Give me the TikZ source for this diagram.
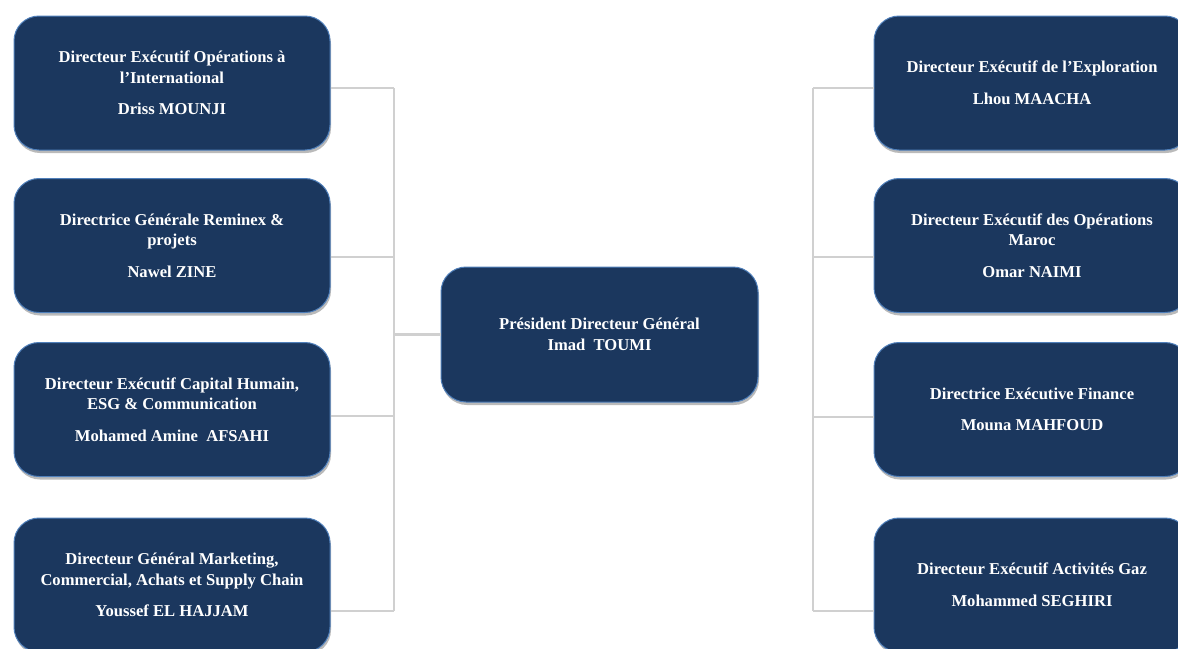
\documentclass[tikz,border=0pt]{standalone}
\usepackage{fontspec}
\setmainfont{Liberation Serif}
\usetikzlibrary{shadows}
\definecolor{boxfill}{HTML}{1B375E}
\definecolor{boxline}{HTML}{4F7FBA}
\definecolor{conn}{HTML}{D0D0D0}
\tikzset{
  orgbox/.style={rectangle, rounded corners=25pt, minimum width=316pt, minimum height=134pt,
    fill=boxfill, draw=boxline, line width=1pt, text=white, align=center, inner sep=0pt,
    font=\fontsize{16.6}{20.6}\selectfont\bfseries,
    drop shadow={shadow xshift=1pt, shadow yshift=-3pt, opacity=0.45, fill=black!60}},
  connector/.style={draw=conn, line width=2.5pt}
}
\begin{document}
\begin{tikzpicture}[x=1pt,y=-1pt]
\useasboundingbox (0,0) rectangle (1178,648);
\fill[white] (0,0) rectangle (1178,648);
% left column
\node[orgbox] (l1) at (172,83) {Directeur Exécutif Opérations à\\l’International\\[11pt]Driss MOUNJI};
\node[orgbox] (l2) at (172,245.5) {Directrice Générale Reminex \&\\projets\\[11pt]Nawel ZINE};
\node[orgbox] (l3) at (172,409.5) {Directeur Exécutif Capital Humain,\\ESG \& Communication\\[11pt]Mohamed Amine\ \ AFSAHI};
\node[orgbox] (l4) at (172,585) {Directeur Général Marketing,\\Commercial, Achats et Supply Chain\\[11pt]Youssef EL HAJJAM};
% centre
\node[orgbox, minimum width=317pt, minimum height=135pt] (c) at (599.5,334.5) {Président Directeur Général\\Imad\ \ TOUMI};
% right column
\node[orgbox] (r1) at (1032,83) {Directeur Exécutif de l’Exploration\\[11pt]Lhou MAACHA};
\node[orgbox] (r2) at (1032,245.5) {Directeur Exécutif des Opérations\\Maroc\\[11pt]Omar NAIMI};
\node[orgbox] (r3) at (1032,409.5) {Directrice Exécutive Finance\\[11pt]Mouna MAHFOUD};
\node[orgbox] (r4) at (1032,585) {Directeur Exécutif Activités Gaz\\[11pt]Mohammed SEGHIRI};
% trunks
\coordinate (LT) at (394,88);
\coordinate (LB) at (394,611);
\coordinate (RT) at (813,88);
\coordinate (RB) at (813,611);
\draw[connector] (LT) -- (LB);
\draw[connector] (RT) -- (RB);
\draw[connector] ([yshift=-5pt]l1.east) -- ([yshift=-5pt]l1.east -| LT);
\draw[connector] ([yshift=-11.5pt]l2.east) -- ([yshift=-11.5pt]l2.east -| LT);
\draw[connector] ([yshift=-6.5pt]l3.east) -- ([yshift=-6.5pt]l3.east -| LT);
\draw[connector] ([yshift=-26pt]l4.east) -- ([yshift=-26pt]l4.east -| LT);
\draw[connector] (c.west) -- (c.west -| LT);
\draw[connector] ([yshift=-5pt]r1.west) -- ([yshift=-5pt]r1.west -| RT);
\draw[connector] ([yshift=-11.5pt]r2.west) -- ([yshift=-11.5pt]r2.west -| RT);
\draw[connector] ([yshift=-7.5pt]r3.west) -- ([yshift=-7.5pt]r3.west -| RT);
\draw[connector] ([yshift=-26pt]r4.west) -- ([yshift=-26pt]r4.west -| RT);
\end{tikzpicture}
\end{document}
